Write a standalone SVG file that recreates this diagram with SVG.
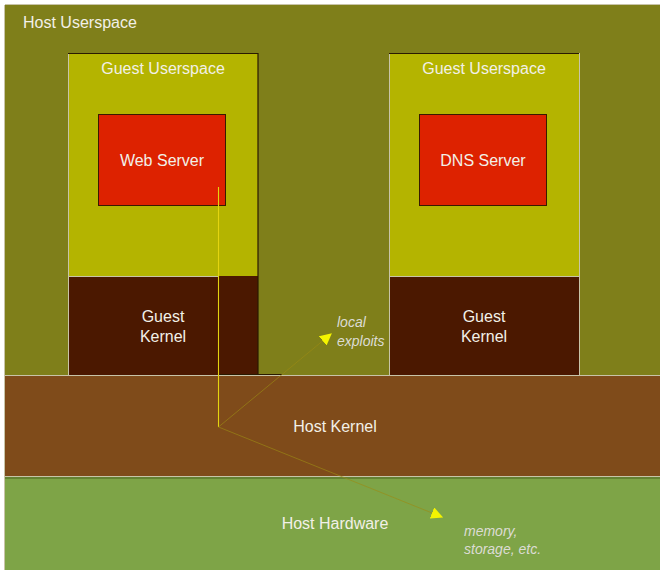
<svg xmlns="http://www.w3.org/2000/svg" width="660" height="570" viewBox="0 0 660 570">
  <defs>
    <style>
      .lbl { font-family: "Liberation Sans", Arial, sans-serif; font-size: 16px; fill: #f2f0e8; }
      .mid { text-anchor: middle; }
      .note { font-family: "Liberation Sans", Arial, sans-serif; font-size: 14px; font-style: italic; fill: #dcdcd4; }
      .hi { stroke: #c8c4a8; stroke-width: 1; }
      .lo { stroke: #2a1a00; stroke-width: 1.2; }
      .trace { stroke: #9c8a14; stroke-width: 0.8; stroke-opacity: 0.8; fill: none; }
    </style>
    <marker id="tip" viewBox="0 0 10 10" refX="9" refY="5" markerWidth="12" markerHeight="12" markerUnits="userSpaceOnUse" orient="auto">
      <path d="M0,0 L10,5 L0,10 Z" fill="#f4f400"/>
    </marker>
  </defs>

  <rect x="0" y="0" width="660" height="570" fill="#ffffff"/>

  <!-- host layers -->
  <g id="host-userspace">
    <rect x="5" y="5" width="655" height="370" fill="#7f7f1a"/>
    <line class="hi" x1="5" y1="4.5" x2="660" y2="4.5"/>
    <line class="hi" x1="4.5" y1="5" x2="4.5" y2="570"/>
    <text class="lbl" x="23" y="28">Host Userspace</text>
  </g>
  <g id="host-kernel">
    <rect x="5" y="375" width="655" height="102" fill="#7f4b1a"/>
    <line class="hi" x1="5" y1="375.5" x2="660" y2="375.5"/>
    <text class="lbl mid" x="335" y="432">Host Kernel</text>
  </g>
  <g id="host-hardware">
    <rect x="5" y="477" width="655" height="93" fill="#7ea447"/>
    <line class="hi" x1="5" y1="476.5" x2="660" y2="476.5"/>
    <line stroke="#4a6020" stroke-width="1" x1="5" y1="478" x2="660" y2="478"/>
    <text class="lbl mid" x="335" y="529">Host Hardware</text>
  </g>

  <!-- first guest -->
  <g id="guest1-userspace">
    <rect x="68" y="53" width="190" height="223" fill="#b4b400"/>
    <line class="lo" x1="68" y1="53.5" x2="258" y2="53.5"/>
    <line class="hi" x1="68.5" y1="54" x2="68.5" y2="276"/>
    <line class="lo" x1="258" y1="53" x2="258" y2="276"/>
    <text class="lbl mid" x="163" y="74">Guest Userspace</text>
  </g>
  <g id="guest1-kernel">
    <rect x="68" y="276" width="190" height="99" fill="#4b1800"/>
    <line class="hi" x1="68" y1="276.5" x2="219" y2="276.5"/>
    <line class="hi" x1="68.5" y1="276" x2="68.5" y2="375"/>
    <line class="lo" x1="258" y1="276" x2="258" y2="375"/>
    <line class="lo" x1="219" y1="374.5" x2="282" y2="374.5"/>
    <text class="lbl mid" x="163" y="322">Guest</text>
    <text class="lbl mid" x="163" y="342">Kernel</text>
  </g>
  <g id="web-server">
    <rect x="98.5" y="114.5" width="127" height="91" fill="#dd2200" stroke="#3a1a00" stroke-width="1"/>
    <text class="lbl mid" x="162" y="166">Web Server</text>
  </g>

  <!-- second guest -->
  <g id="guest2-userspace">
    <rect x="389" y="53" width="190" height="223" fill="#b4b400"/>
    <line class="lo" x1="389" y1="53.5" x2="579" y2="53.5"/>
    <line class="hi" x1="389.5" y1="54" x2="389.5" y2="276"/>
    <line class="hi" x1="579.5" y1="53" x2="579.5" y2="276"/>
    <text class="lbl mid" x="484" y="74">Guest Userspace</text>
  </g>
  <g id="guest2-kernel">
    <rect x="389" y="276" width="190" height="99" fill="#4b1800"/>
    <line class="hi" x1="389" y1="276.5" x2="579" y2="276.5"/>
    <line class="hi" x1="389.5" y1="276" x2="389.5" y2="375"/>
    <line class="hi" x1="579.5" y1="276" x2="579.5" y2="375"/>
    <text class="lbl mid" x="484" y="322">Guest</text>
    <text class="lbl mid" x="484" y="342">Kernel</text>
  </g>
  <g id="dns-server">
    <rect x="419.5" y="114.5" width="127" height="91" fill="#dd2200" stroke="#3a1a00" stroke-width="1"/>
    <text class="lbl mid" x="483" y="166">DNS Server</text>
  </g>

  <!-- attack path -->
  <g id="connectors">
    <line x1="218.5" y1="187" x2="218.5" y2="427" stroke="#e4d410" stroke-width="1.1"/>
    <line class="trace" x1="218.5" y1="427" x2="331" y2="334" marker-end="url(#tip)"/>
    <line class="trace" x1="218.5" y1="427" x2="442" y2="517" marker-end="url(#tip)"/>
  </g>

  <g id="note-exploits">
    <text class="note" x="337" y="327">local</text>
    <text class="note" x="337" y="346">exploits</text>
  </g>
  <g id="note-hardware">
    <text class="note" x="464" y="536">memory,</text>
    <text class="note" x="464" y="554">storage, etc.</text>
  </g>
</svg>
